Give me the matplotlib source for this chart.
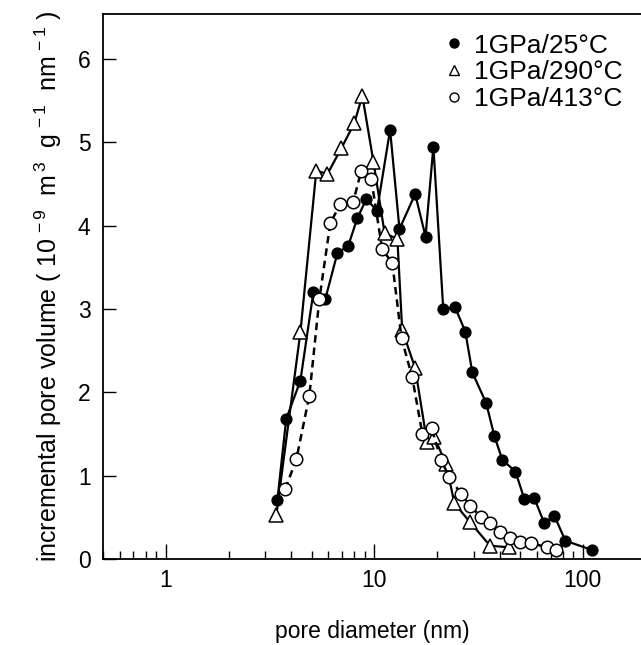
import matplotlib.pyplot as plt
from matplotlib.lines import Line2D

plt.rcParams['font.family'] = ['Liberation Sans', 'DejaVu Sans']
plt.rcParams['mathtext.fontset'] = 'custom'
plt.rcParams['mathtext.rm'] = 'Liberation Sans'
plt.rcParams['mathtext.it'] = 'Liberation Sans'

# 1GPa/25°C (filled circles)
d_25 = [3.43, 3.78, 4.42, 5.10, 5.82, 6.65, 7.50, 8.29, 9.16, 10.3, 11.9, 13.2,
        15.7, 17.6, 19.2, 21.4, 24.4, 27.3, 29.5, 34.4, 37.6, 41.1, 47.5, 52.4,
        58.5, 65.3, 73.0, 82.4, 110]
v_25 = [0.71, 1.68, 2.14, 3.20, 3.12, 3.67, 3.76, 4.09, 4.32, 4.18, 5.15, 3.96,
        4.38, 3.87, 4.95, 3.00, 3.02, 2.73, 2.24, 1.87, 1.48, 1.19, 1.05, 0.72,
        0.73, 0.43, 0.52, 0.22, 0.11]

# 1GPa/290°C (open triangles)
d_290 = [3.39, 4.42, 5.27, 5.96, 6.95, 8.02, 8.76, 9.9, 11.2, 12.9, 13.6, 15.7,
         17.9, 19.4, 22.1, 24.2, 28.8, 35.9, 44.4]
v_290 = [0.53, 2.72, 4.66, 4.62, 4.93, 5.23, 5.56, 4.77, 3.91, 3.84, 2.75, 2.29,
         1.40, 1.46, 1.14, 0.67, 0.44, 0.16, 0.14]

# 1GPa/413°C (open circles)
d_413 = [3.74, 4.23, 4.88, 5.45, 6.15, 6.87, 7.93, 8.66, 9.67, 10.9, 12.2, 13.5,
         15.2, 17.0, 18.8, 20.9, 22.9, 26.1, 28.8, 32.6, 35.9, 40.2, 44.9, 50.1,
         56.6, 67.6, 74.7]
v_413 = [0.84, 1.20, 1.96, 3.12, 4.03, 4.26, 4.29, 4.66, 4.56, 3.72, 3.55, 2.65,
         2.18, 1.50, 1.57, 1.19, 0.98, 0.78, 0.64, 0.50, 0.43, 0.32, 0.25, 0.20,
         0.19, 0.14, 0.11]

labels = ['1GPa/25°C', '1GPa/290°C', '1GPa/413°C']

fig = plt.figure(figsize=(6.41, 6.45), dpi=100)
ax = fig.add_axes([0.1607, 0.1333, 0.8393, 0.845])

ax.plot(d_25, v_25, '-', color='black', lw=1.6, marker='o', ms=7.8,
        mfc='black', mec='black', zorder=3)
ax.plot(d_290, v_290, '-', color='black', lw=1.6, marker='^', ms=9.5,
        mfc='white', mec='black', mew=1.1, zorder=4)
ax.plot(d_413, v_413, '--', color='black', lw=1.8, dashes=(3, 2), marker='o',
        ms=9, mfc='white', mec='black', mew=1.1, zorder=5)

ax.set_xscale('log')
ax.set_xlim(0.5, 190)
ax.set_ylim(0, 6.54)
ax.set_yticks([0, 1, 2, 3, 4, 5, 6])
ax.set_xticks([1, 10, 100])
ax.set_xticklabels(['1', '10', '100'])

ax.spines['right'].set_visible(False)
for s in ['left', 'bottom', 'top']:
    ax.spines[s].set_linewidth(1.3)

ax.tick_params(axis='x', which='major', direction='in', length=11, width=1.0,
               labelsize=16.5, pad=7)
ax.tick_params(axis='x', which='minor', direction='in', length=5.5, width=1.0)
ax.tick_params(axis='y', which='major', direction='in', length=9.5, width=1.0,
               labelsize=16.5, pad=9)
ax.tick_params(axis='y', which='minor', left=False)

ax.set_xlabel('pore diameter (nm)', fontsize=16.5, labelpad=20)
ax.set_ylabel(r'incremental pore volume ( 10$^{\,-9}$  m$^{\,3}$  g$^{\,-1}$  nm$^{\,-1}$ )',
              fontsize=18, labelpad=10)

handles = [
    Line2D([], [], ls='none', marker='o', ms=6.5, mfc='black', mec='black'),
    Line2D([], [], ls='none', marker='^', ms=6.5, mfc='white', mec='black', mew=1),
    Line2D([], [], ls='none', marker='o', ms=6.5, mfc='white', mec='black', mew=1),
]
ax.legend(handles, labels, loc='upper right', bbox_to_anchor=(0.995, 0.993),
          frameon=False, fontsize=19, handlelength=0.5, handletextpad=0.5,
          labelspacing=0.1, borderaxespad=0.2)

plt.savefig('out.png', dpi=100)
